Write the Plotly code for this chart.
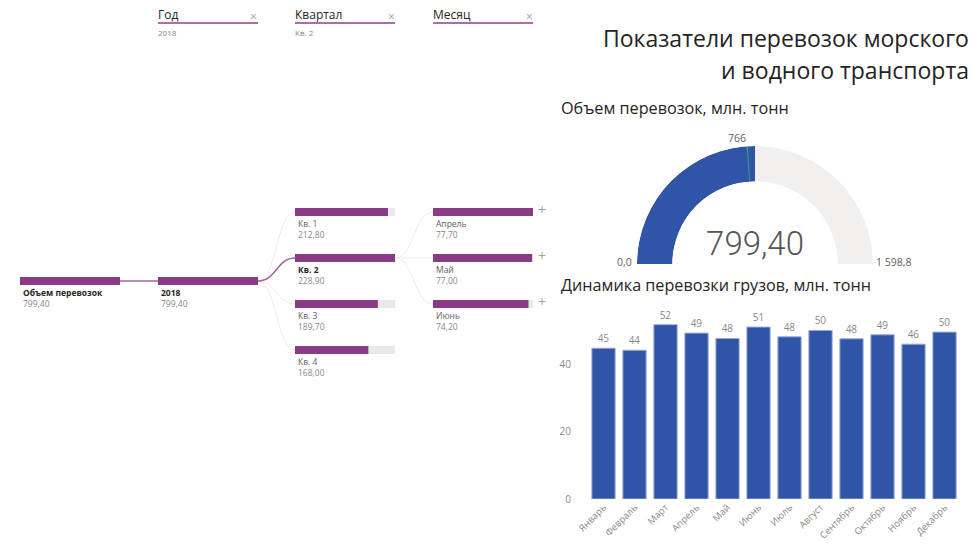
import plotly.graph_objects as go

# ---------------- data ----------------
root_name = "Объем перевозок"
root_value = 799.40
years = ["2018"]
year_values = [799.40]
quarters = ["Кв. 1", "Кв. 2", "Кв. 3", "Кв. 4"]
quarter_values = [212.80, 228.90, 189.70, 168.00]
months_q2 = ["Апрель", "Май", "Июнь"]
month_values_q2 = [77.70, 77.00, 74.20]
selected_year = "2018"
selected_quarter = "Кв. 2"

slicer_titles = ["Год", "Квартал", "Месяц"]
slicer_values = ["2018", "Кв. 2", ""]

gauge_min = 0.0
gauge_max = 1598.8
gauge_value = 799.40
gauge_target = 766

month_names = ["Январь", "Февраль", "Март", "Апрель", "Май", "Июнь", "Июль",
               "Август", "Сентябрь", "Октябрь", "Ноябрь", "Декабрь"]
cargo_values = [44.9, 44.3, 51.9, 49.4, 47.8, 51.2, 48.3, 50.2, 47.7, 48.9, 46.1, 49.7]

title_lines = ["Показатели перевозок морского", "и водного транспорта"]
gauge_title = "Объем перевозок, млн. тонн"
bars_title = "Динамика перевозки грузов, млн. тонн"

# ---------------- style ----------------
W, H = 974, 547
FONT = "Open Sans"
PURPLE = "#8B3B86"
PURPLE_LINE = "#A764A3"
BG_BAR = "#E9E9E9"
BLUE = "#3155A6"
TEAL = "#35A08C"
DARK = "#252423"
GRAY = "#605E5C"
LGRAY = "#8A8886"

def px(x):
    return x / W

def py(y):
    return 1 - y / H

def fmt(v, d):
    return f"{v:,.{d}f}".replace(",", " ").replace(".", ",")

fig = go.Figure()

# ---------------- decomposition tree ----------------
col_left = [20, 158, 295, 433]
col_w = 100
row_px = 46
center_px = 281
bar_h = 8 / row_px

levels = [
    ([root_name], [root_value], [0.0]),
    (years, year_values, [0.0]),
]
q_pos = [i - (len(quarters) - 1) / 2 for i in range(len(quarters))]
levels.append((quarters, quarter_values, q_pos))
sel_q = quarters.index(selected_quarter)
m_pos = [q_pos[sel_q] + j - (len(months_q2) - 1) / 2 for j in range(len(months_q2))]
levels.append((months_q2, month_values_q2, m_pos))

bold_names = {root_name, selected_year, selected_quarter}

annotations = []
for k, (names, vals, pos) in enumerate(levels):
    ax = "x" if k == 0 else f"x{k+1}"
    vmax = max(vals)
    fig.add_trace(go.Bar(x=[vmax] * len(vals), y=pos, orientation="h", width=bar_h,
                         marker=dict(color=BG_BAR, line=dict(width=0)),
                         xaxis=ax, yaxis="y", hoverinfo="skip", showlegend=False))
    fig.add_trace(go.Bar(x=vals, y=pos, orientation="h", width=bar_h,
                         marker=dict(color=PURPLE, line=dict(width=0)),
                         xaxis=ax, yaxis="y", showlegend=False))
    name_txt = [f"<b>{n}</b>" if n in bold_names else n for n in names]
    name_col = [DARK if n in bold_names else GRAY for n in names]
    x_txt = vmax * 0.03
    fig.add_trace(go.Scatter(x=[x_txt] * len(vals), y=[p + 12.5 / row_px for p in pos],
                             mode="text", text=name_txt, textposition="middle right",
                             textfont=dict(family=FONT, size=8.5, color=name_col),
                             xaxis=ax, yaxis="y", hoverinfo="skip", showlegend=False,
                             cliponaxis=False))
    fig.add_trace(go.Scatter(x=[x_txt] * len(vals), y=[p + 24 / row_px for p in pos],
                             mode="text", text=[fmt(v, 2) for v in vals],
                             textposition="middle right",
                             textfont=dict(family=FONT, size=8.5, color=LGRAY),
                             xaxis=ax, yaxis="y", hoverinfo="skip", showlegend=False,
                             cliponaxis=False))
    if k == 3:
        for p in pos:
            annotations.append(dict(x=px(col_left[k] + col_w * 1.09), y=p - 0.05,
                                    xref="paper", yref="y", text="+",
                                    showarrow=False, xanchor="center", yanchor="middle",
                                    font=dict(family=FONT, size=14, color="#A19F9D")))

y_top = -center_px / row_px
y_bot = (H - center_px) / row_px
axis_hidden = dict(visible=False, fixedrange=True, automargin=False)
layout_axes = {}
for k, (names, vals, pos) in enumerate(levels):
    key = "xaxis" if k == 0 else f"xaxis{k+1}"
    layout_axes[key] = dict(domain=[px(col_left[k]), px(col_left[k] + col_w)],
                            range=[0, max(vals)], anchor="y", **axis_hidden)
layout_axes["yaxis"] = dict(domain=[0, 1], range=[y_bot, y_top], anchor="x", **axis_hidden)

shapes = []
def curve(x0, y0, x1, y1, color, width):
    xm = (x0 + x1) / 2
    return dict(type="path", xref="paper", yref="y",
                path=f"M {px(x0)},{y0} C {px(xm)},{y0} {px(xm)},{y1} {px(x1)},{y1}",
                line=dict(color=color, width=width), layer="below")

for k in range(1, 4):
    children = levels[k]
    if k == 1:
        ppos = levels[0][2][0]
        sel_child = years.index(selected_year)
    elif k == 2:
        ppos = levels[1][2][years.index(selected_year)]
        sel_child = sel_q
    else:
        ppos = q_pos[sel_q]
        sel_child = None
    x0 = col_left[k - 1] + col_w
    x1 = col_left[k]
    for j, cp in enumerate(children[2]):
        if j == sel_child:
            continue
        shapes.append(curve(x0, ppos, x1, cp, "#EDEBE9", 1))
    if sel_child is not None:
        shapes.append(curve(x0, ppos, x1, children[2][sel_child], PURPLE_LINE, 1.5))

for i, (t, v) in enumerate(zip(slicer_titles, slicer_values)):
    x0 = col_left[i + 1]
    annotations.append(dict(x=px(x0 - 2), y=py(15), xref="paper", yref="paper", text=t,
                            showarrow=False, xanchor="left", yanchor="middle",
                            font=dict(family=FONT, size=12, color=DARK)))
    annotations.append(dict(x=px(x0 + col_w - 4), y=py(16), xref="paper", yref="paper",
                            text="×", showarrow=False, xanchor="center", yanchor="middle",
                            font=dict(family=FONT, size=12, color="#A19F9D")))
    if v:
        annotations.append(dict(x=px(x0 - 2), y=py(33), xref="paper", yref="paper", text=v,
                                showarrow=False, xanchor="left", yanchor="middle",
                                font=dict(family=FONT, size=8, color=LGRAY)))
    shapes.append(dict(type="line", xref="paper", yref="paper", x0=px(x0), x1=px(x0 + col_w),
                       y0=py(23), y1=py(23), line=dict(color="#A870AB", width=2)))

annotations.append(dict(x=px(971), y=py(38), xref="paper", yref="paper", text=title_lines[0],
                        showarrow=False, xanchor="right", yanchor="middle",
                        font=dict(family=FONT, size=23, color=DARK)))
annotations.append(dict(x=px(971), y=py(70), xref="paper", yref="paper", text=title_lines[1],
                        showarrow=False, xanchor="right", yanchor="middle",
                        font=dict(family=FONT, size=23, color=DARK)))
annotations.append(dict(x=px(559), y=py(108), xref="paper", yref="paper", text=gauge_title,
                        showarrow=False, xanchor="left", yanchor="middle",
                        font=dict(family=FONT, size=16.2, color=DARK)))
annotations.append(dict(x=px(559), y=py(285), xref="paper", yref="paper", text=bars_title,
                        showarrow=False, xanchor="left", yanchor="middle",
                        font=dict(family=FONT, size=16.2, color=DARK)))

# ---------------- gauge ----------------
def ang(v):
    return 180 - (v - gauge_min) / (gauge_max - gauge_min) * 180

a_val = ang(gauge_value)
fig.add_trace(go.Barpolar(r=[1], theta=[(180 + a_val) / 2], width=[180 - a_val],
                          marker=dict(color=BLUE, line=dict(width=0)),
                          subplot="polar", showlegend=False))
fig.add_trace(go.Barpolar(r=[1], theta=[a_val / 2], width=[a_val],
                          marker=dict(color="#F1F0EF", line=dict(width=0)),
                          subplot="polar", showlegend=False, hoverinfo="skip"))
fig.add_trace(go.Barpolar(r=[1], theta=[ang(gauge_target)], width=[0.6],
                          marker=dict(color=TEAL, line=dict(width=0)),
                          subplot="polar", showlegend=False))

fig.add_trace(go.Indicator(mode="number", value=gauge_value,
                           number=dict(valueformat=".2f",
                                       font=dict(family="Roboto", size=33, weight=300,
                                                 color="#555555")),
                           domain=dict(x=[px(690), px(820)], y=[py(263), py(223)])))

annotations.append(dict(x=px(634), y=py(262), xref="paper", yref="paper", text=fmt(gauge_min, 1),
                        showarrow=False, xanchor="right", yanchor="middle",
                        font=dict(family=FONT, size=10.5, color=GRAY)))
annotations.append(dict(x=px(874), y=py(262), xref="paper", yref="paper", text=fmt(gauge_max, 1),
                        showarrow=False, xanchor="left", yanchor="middle",
                        font=dict(family=FONT, size=10.5, color=GRAY)))
annotations.append(dict(x=px(737), y=py(138), xref="paper", yref="paper", text=f"{gauge_target}",
                        showarrow=False, xanchor="center", yanchor="middle",
                        font=dict(family=FONT, size=10.5, color=GRAY)))

# ---------------- monthly bars ----------------
fig.add_trace(go.Bar(x=month_names, y=cargo_values, xaxis="x5", yaxis="y2",
                     marker=dict(color=BLUE, line=dict(color="#9AAADB", width=1)),
                     text=cargo_values, texttemplate="%{y:.0f}", textposition="outside",
                     textfont=dict(family=FONT, size=10, color=LGRAY),
                     cliponaxis=False, showlegend=False))

y2_max = 55
zero_px = 499
unit_px = 3.358
layout_axes["xaxis5"] = dict(domain=[px(588), px(960)], anchor="y2", tickangle=-45,
                             tickfont=dict(family=FONT, size=9.5, color=LGRAY),
                             showgrid=False, showline=False, ticks="", fixedrange=True,
                             automargin=False)
layout_axes["yaxis2"] = dict(domain=[py(zero_px), py(zero_px - y2_max * unit_px)],
                             range=[0, y2_max], anchor="x5", tickvals=[0, 20, 40],
                             tickfont=dict(family=FONT, size=10, color=LGRAY),
                             showgrid=False, zeroline=False, showline=False,
                             ticklabelstandoff=16, fixedrange=True, automargin=False)

fig.update_layout(
    width=W, height=H, autosize=False,
    margin=dict(l=0, r=0, t=0, b=0, pad=0, autoexpand=False),
    paper_bgcolor="white", plot_bgcolor="white",
    barmode="overlay", bargap=0.25,
    separators=", ",
    font=dict(family=FONT, color=DARK),
    showlegend=False,
    polar=dict(domain=dict(x=[px(637), px(873)], y=[py(264), py(146)]),
               sector=[0, 180], hole=0.70, bgcolor="white",
               radialaxis=dict(visible=False, range=[0, 1]),
               angularaxis=dict(visible=False, showgrid=False)),
    shapes=shapes, annotations=annotations,
    **layout_axes,
)

fig.write_html("out.html")
